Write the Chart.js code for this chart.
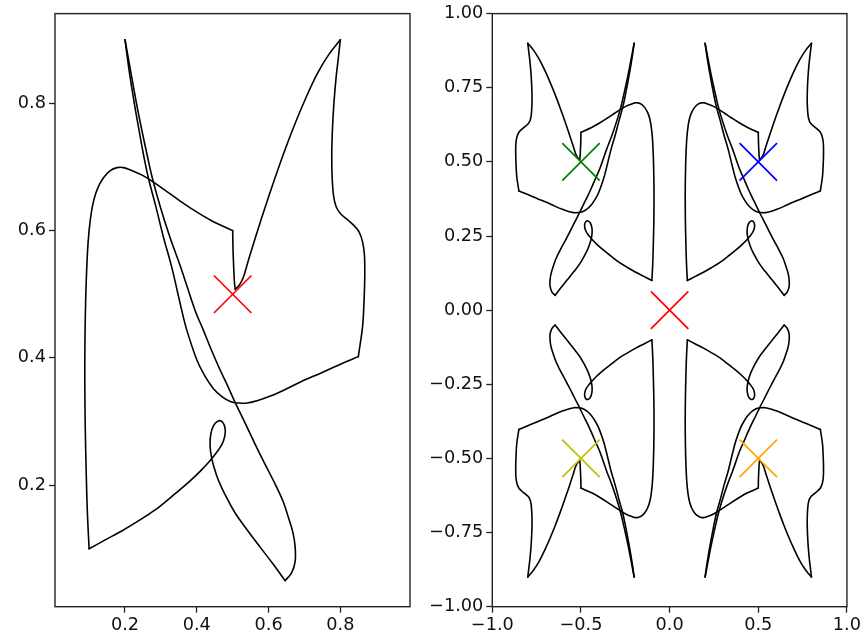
<!DOCTYPE html>
<html>
<head>
<meta charset="utf-8">
<script src="https://cdn.jsdelivr.net/npm/chart.js@4/dist/chart.umd.min.js"></script>
<style>
  html, body { margin: 0; padding: 0; background: #ffffff; }
  #wrap { position: relative; width: 863px; height: 644px; }
  canvas { position: absolute; top: 0; }
  #left { left: 0; }
  #right { left: 431px; }
</style>
</head>
<body>
<div id="wrap">
  <canvas id="left" width="431" height="644"></canvas>
  <canvas id="right" width="432" height="644"></canvas>
</div>
<script>
// Closed outline, traced point by point (unit square coordinates)
const pathX = [
  0.100, 0.095, 0.092, 0.089, 0.088, 0.089, 0.092, 0.097, 0.104, 0.113, 0.125, 0.140, 0.158, 0.178, 0.196,
  0.220, 0.245, 0.272, 0.310, 0.350, 0.395, 0.440, 0.500,
  0.501, 0.503, 0.505, 0.507,
  0.518, 0.530, 0.542, 0.555, 0.570, 0.590, 0.615, 0.645, 0.675, 0.705, 0.735, 0.768, 0.800,
  0.794, 0.788, 0.782, 0.778, 0.776, 0.777, 0.781, 0.788, 0.800, 0.818, 0.836, 0.852, 0.862, 0.867, 0.868,
  0.866, 0.862, 0.850,
  0.800, 0.745, 0.692, 0.645, 0.605, 0.570, 0.540, 0.518,
  0.495, 0.470, 0.446, 0.422, 0.400, 0.372, 0.358, 0.330, 0.307, 0.285, 0.265, 0.252, 0.240, 0.226, 0.212, 0.200,
  0.216, 0.232, 0.248, 0.262, 0.276, 0.297, 0.325, 0.355, 0.395, 0.418, 0.441, 0.465, 0.486, 0.506, 0.530,
  0.562, 0.590, 0.618, 0.640, 0.656, 0.668, 0.674, 0.674, 0.664, 0.646,
  0.610, 0.576, 0.540, 0.506, 0.478, 0.460, 0.448, 0.441, 0.437, 0.439, 0.447, 0.460, 0.472, 0.479, 0.478,
  0.470, 0.456, 0.441, 0.410, 0.376, 0.330, 0.284, 0.235, 0.191, 0.145, 0.100
];
const pathY = [
  0.100, 0.160, 0.220, 0.300, 0.380, 0.450, 0.520, 0.580, 0.620, 0.648, 0.668, 0.683, 0.694, 0.699, 0.699,
  0.694, 0.688, 0.679, 0.664, 0.648, 0.631, 0.616, 0.600,
  0.570, 0.540, 0.518, 0.508,
  0.514, 0.527, 0.550, 0.574, 0.601, 0.636, 0.678, 0.726, 0.770, 0.810, 0.846, 0.877, 0.900,
  0.870, 0.840, 0.800, 0.760, 0.720, 0.685, 0.655, 0.638, 0.627, 0.618, 0.609, 0.598, 0.582, 0.562, 0.530,
  0.490, 0.450, 0.402,
  0.390, 0.376, 0.363, 0.350, 0.340, 0.333, 0.329, 0.329,
  0.331, 0.339, 0.352, 0.372, 0.397, 0.444, 0.475, 0.543, 0.590, 0.640, 0.683, 0.718, 0.755, 0.800, 0.850, 0.900,
  0.850, 0.800, 0.755, 0.718, 0.683, 0.640, 0.590, 0.543, 0.475, 0.444, 0.412, 0.381, 0.356, 0.331, 0.303,
  0.265, 0.233, 0.202, 0.175, 0.148, 0.125, 0.103, 0.080, 0.062, 0.050,
  0.078, 0.103, 0.130, 0.157, 0.186, 0.208, 0.228, 0.244, 0.262, 0.280, 0.294, 0.301, 0.299, 0.289, 0.277,
  0.264, 0.252, 0.241, 0.222, 0.204, 0.182, 0.161, 0.143, 0.128, 0.114, 0.100
];
// Sharp corners of the outline (indices into the path); the stretches between are smooth
const cornerIndex = [0, 22, 26, 39, 57, 81, 106, 132];

// Marker positions and colours
const markerX = [0.5, -0.5, -0.5, 0.5, 0.0];
const markerY = [0.5, 0.5, -0.5, -0.5, 0.0];
const markerColors = ['#0000ff', '#008000', '#bfbf00', '#ffa500', '#ff0000'];

// Mirror signs for the four copies on the right panel
const copySignX = [1, -1, -1, 1];
const copySignY = [1, 1, -1, -1];

// Axis ticks
const leftXTicks = [0.2, 0.4, 0.6, 0.8];
const leftXLabels = ['0.2', '0.4', '0.6', '0.8'];
const leftYTicks = [0.2, 0.4, 0.6, 0.8];
const leftYLabels = ['0.2', '0.4', '0.6', '0.8'];
const rightXTicks = [-1.0, -0.5, 0.0, 0.5, 1.0];
const rightXLabels = ['\u22121.0', '\u22120.5', '0.0', '0.5', '1.0'];
const rightYTicks = [-1.0, -0.75, -0.5, -0.25, 0.0, 0.25, 0.5, 0.75, 1.0];
const rightYLabels = ['\u22121.00', '\u22120.75', '\u22120.50', '\u22120.25', '0.00', '0.25', '0.50', '0.75', '1.00'];

const FONT = { family: 'DejaVu Sans', size: 17.7 };

const framePlugin = {
  id: 'frame',
  afterDraw(chart) {
    const a = chart.chartArea, ctx = chart.ctx;
    ctx.save();
    ctx.strokeStyle = '#222';
    ctx.lineWidth = 1.4;
    ctx.strokeRect(a.left, a.top, a.right - a.left, a.bottom - a.top);
    ctx.restore();
  }
};

function axis(pos, min, max, ticks, labels, size) {
  return {
    type: 'linear',
    position: pos,
    min: min,
    max: max,
    offset: false,
    border: { display: false },
    grid: { display: true, drawOnChartArea: false, drawTicks: true, tickLength: 6, tickWidth: 1.3, tickColor: '#222' },
    ticks: {
      color: '#111',
      font: FONT,
      padding: pos === 'left' ? 3 : 2,
      maxRotation: 0,
      autoSkip: false,
      callback: (v, i) => labels[i]
    },
    afterBuildTicks: (s) => { s.ticks = ticks.map(v => ({ value: v })); },
    afterFit: (s) => {
      if (pos === 'left') s.width = size; else s.height = size;
    }
  };
}

// One dataset per smooth stretch of the outline, mirrored by (sx, sy)
function outline(sx, sy) {
  const sets = [];
  for (let k = 0; k < cornerIndex.length - 1; k++) {
    const pts = [];
    for (let i = cornerIndex[k]; i <= cornerIndex[k + 1]; i++) {
      pts.push({ x: sx * pathX[i], y: sy * pathY[i] });
    }
    sets.push({
      type: 'scatter',
      data: pts,
      showLine: true,
      borderColor: '#000',
      borderWidth: 1.6,
      borderJoinStyle: 'round',
      borderCapStyle: 'round',
      pointRadius: 0,
      tension: 0.35,
      fill: false,
      order: 2
    });
  }
  return sets;
}

function marker(color, x, y) {
  return {
    type: 'scatter',
    data: [{ x: x, y: y }],
    showLine: false,
    pointStyle: 'crossRot',
    pointRadius: 26.5,
    pointBorderWidth: 1.7,
    borderColor: color,
    backgroundColor: color,
    order: 1
  };
}

const baseOpts = {
  responsive: false,
  animation: false,
  plugins: { legend: { display: false }, tooltip: { enabled: false } },
  events: []
};

// Left panel: single outline with a red marker at its centre
new Chart(document.getElementById('left'), {
  type: 'scatter',
  data: { datasets: outline(1, 1).concat([marker(markerColors[4], markerX[0], markerY[0])]) },
  options: Object.assign({}, baseOpts, {
    layout: { autoPadding: false, padding: { left: 0, right: 21, top: 13.3, bottom: 0 } },
    scales: {
      x: axis('bottom', 0.005, 0.994, leftXTicks, leftXLabels, 37.3),
      y: axis('left', 0.009, 0.941, leftYTicks, leftYLabels, 55)
    }
  }),
  plugins: [framePlugin]
});

// Right panel: four mirrored copies and five markers
let rightSets = [];
for (let k = 0; k < 4; k++) rightSets = rightSets.concat(outline(copySignX[k], copySignY[k]));
for (let k = 0; k < 5; k++) rightSets.push(marker(markerColors[k], markerX[k], markerY[k]));

new Chart(document.getElementById('right'), {
  type: 'scatter',
  data: { datasets: rightSets },
  options: Object.assign({}, baseOpts, {
    layout: { autoPadding: false, padding: { left: 0, right: 15.3, top: 13.3, bottom: 0 } },
    scales: {
      x: axis('bottom', -1, 1, rightXTicks, rightXLabels, 37.3),
      y: axis('left', -1, 1, rightYTicks, rightYLabels, 61.3)
    }
  }),
  plugins: [framePlugin]
});
</script>
</body>
</html>
